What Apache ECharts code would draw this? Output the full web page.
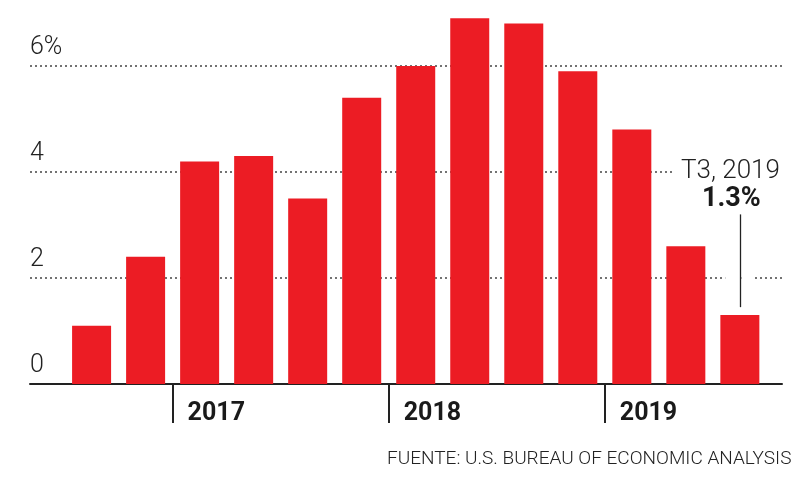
<!DOCTYPE html>
<html>
<head>
<meta charset="utf-8">
<script src="https://cdn.jsdelivr.net/npm/echarts@6/dist/echarts.min.js"></script>
<style>html,body{margin:0;padding:0;background:#fff;}#c{width:800px;height:498px;}</style>
</head>
<body>
<div id="c"></div>
<script>
// Data
const categories = ['T3 2016','T4 2016','T1 2017','T2 2017','T3 2017','T4 2017','T1 2018','T2 2018','T3 2018','T4 2018','T1 2019','T2 2019','T3 2019'];
const values = [1.1, 2.4, 4.2, 4.3, 3.5, 5.4, 6.0, 6.9, 6.8, 5.9, 4.8, 2.6, 1.3];
const years = ['2017', '2018', '2019'];
const yTicks = [0, 2, 4, 6];
const annotationTitle = 'T3, 2019';
const annotationValue = '1.3%';
const sourceText = 'FUENTE: U.S. BUREAU OF ECONOMIC ANALYSIS';

// year boundaries: before first quarter of each year
const yearPos = years.map(y => categories.findIndex(c => c.endsWith(y)) - 0.5);
const lastIdx = categories.length - 1;

const chart = echarts.init(document.getElementById('c'), null, {renderer: 'canvas'});
const FONT = 'Roboto';
const white = {color: '#ffffff', width: 6, type: 'solid'};
chart.setOption({
  animation: false,
  grid: {left: 30, right: 18, top: 13, bottom: 114, containLabel: false},
  xAxis: {
    type: 'value',
    min: -1.14, max: 12.78,
    axisLine: {show: true, onZero: false, lineStyle: {color: '#222', width: 2}},
    axisTick: {show: true, customValues: yearPos, length: 39, lineStyle: {color: '#222', width: 2}},
    axisLabel: {
      show: true, customValues: yearPos,
      formatter: v => { const i = yearPos.findIndex(p => Math.abs(p - v) < 1e-6); return i >= 0 ? years[i] : ''; },
      align: 'left', verticalAlign: 'top', margin: 17, padding: [0, 0, 0, 15],
      color: '#1a1a1a', fontFamily: FONT, fontWeight: 'bold', fontSize: 25
    },
    splitLine: {show: false}
  },
  yAxis: {
    type: 'value', min: 0, max: 7, interval: 2,
    axisLine: {show: false}, axisTick: {show: false},
    axisLabel: {
      inside: true, margin: 0, align: 'left', verticalAlign: 'bottom',
      padding: [0, 0, 6, 0], showMaxLabel: false,
      formatter: v => yTicks.includes(v) ? (v === 6 ? v + '%' : String(v)) : '',
      color: '#222', fontFamily: FONT, fontWeight: 300, fontSize: 25
    },
    splitLine: {show: true, showMaxLine: false, lineStyle: {color: '#444', width: 1.5, type: [2, 3]}}
  },
  series: [{
    type: 'bar',
    data: values.map((v, i) => [i, v]),
    barWidth: 39,
    itemStyle: {color: '#ec1c24'},
    z: 3,
    markLine: {
      silent: true, symbol: 'none', animation: false,
      label: {show: false},
      lineStyle: {color: '#222', width: 1.3, type: 'solid'},
      data: [
        [{coord: [lastIdx - 0.27, 2], lineStyle: white}, {coord: [lastIdx - 0.03, 2]}],
        [{coord: [lastIdx + 0.03, 2], lineStyle: white}, {coord: [lastIdx + 0.27, 2]}],
        [{coord: [lastIdx, values[lastIdx] + 0.15]}, {coord: [lastIdx, 3.2]}]
      ]
    }
  }],
  graphic: [
    {type: 'text', left: 675, top: 158, z: 10,
      style: {text: annotationTitle, fontFamily: FONT, fontWeight: 300, fontSize: 26, fill: '#222',
        backgroundColor: '#fff', padding: [0, 30, 0, 6]}},
    {type: 'text', left: 702, top: 186, z: 10,
      style: {text: annotationValue, fontFamily: FONT, fontWeight: 'bold', fontSize: 27, fill: '#1a1a1a'}},
    {type: 'text', left: 387, top: 450, z: 10,
      style: {text: sourceText, fontFamily: FONT, fontWeight: 300, fontSize: 19, fill: '#222'}}
  ]
});
</script>
</body>
</html>
